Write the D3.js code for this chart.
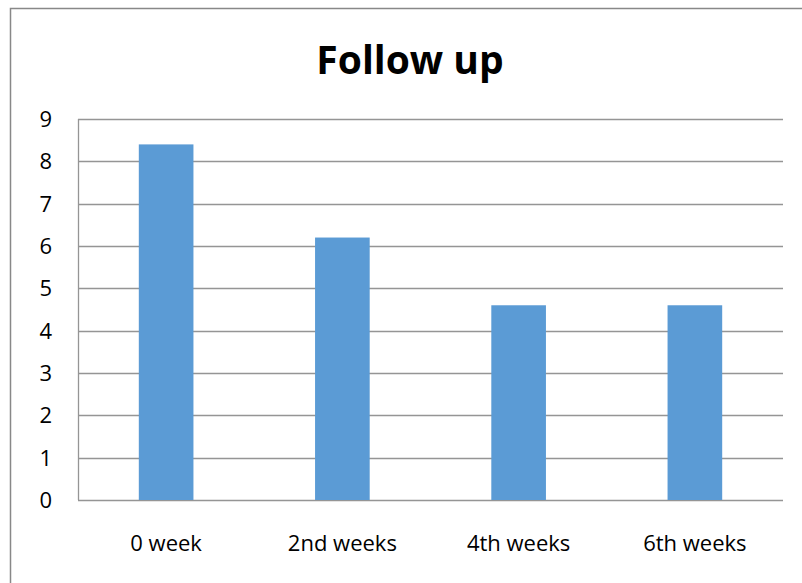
<html>
<head>
<script src="https://d3js.org/d3.v7.min.js"></script>
<style>
body { margin:0; background:#fff; }
text { font-family: "Open Sans", sans-serif; fill:#000; }
</style>
</head>
<body>
<svg width="802" height="583"></svg>
<script>
var categories = ["0 week", "2nd weeks", "4th weeks", "6th weeks"];
var values = [8.4, 6.2, 4.6, 4.6];
var yTicks = [0, 1, 2, 3, 4, 5, 6, 7, 8, 9];
var title = "Follow up";

var svg = d3.select("svg");

// outer chart frame
svg.append("rect")
    .attr("x", 10.5).attr("y", 8.5)
    .attr("width", 820).attr("height", 600)
    .attr("fill", "none").attr("stroke", "#888").attr("stroke-width", 1.5);

var plotLeft = 78, plotTop = 119, plotRight = 783, plotBottom = 500;

var x = d3.scaleBand().domain(categories).range([plotLeft, plotRight]).paddingInner(0.69).paddingOuter(0.345);
var y = d3.scaleLinear().domain([0, 9]).range([plotBottom, plotTop]);

// gridlines
svg.append("g").selectAll("line").data(yTicks).enter().append("line")
    .attr("x1", plotLeft).attr("x2", plotRight)
    .attr("y1", function(d) { return Math.round(y(d)) + 0.5; })
    .attr("y2", function(d) { return Math.round(y(d)) + 0.5; })
    .attr("stroke", "#959595").attr("stroke-width", 1.3);

// left axis line
svg.append("line")
    .attr("x1", plotLeft + 0.5).attr("x2", plotLeft + 0.5)
    .attr("y1", plotTop).attr("y2", plotBottom)
    .attr("stroke", "#959595").attr("stroke-width", 1.3);

svg.append("g").selectAll("rect").data(values).enter().append("rect")
    .attr("x", function(d, i) { return x(categories[i]); })
    .attr("y", function(d) { return y(d); })
    .attr("width", x.bandwidth())
    .attr("height", function(d) { return y(0) - y(d); })
    .attr("fill", "#5b9bd5");

// y tick labels
svg.append("g").selectAll("text").data(yTicks).enter().append("text")
    .text(function(d) { return d; })
    .attr("x", 52).attr("y", function(d) { return y(d); })
    .attr("dy", "0.36em")
    .attr("text-anchor", "end")
    .style("font-size", "22px");

// category labels
svg.append("g").selectAll("text").data(categories).enter().append("text")
    .text(function(d) { return d; })
    .attr("x", function(d) { return x(d) + x.bandwidth() / 2; })
    .attr("y", 543).attr("dy", "0.36em")
    .attr("text-anchor", "middle")
    .style("font-size", "22px");

svg.append("text").text(title)
    .attr("x", 410).attr("y", 74)
    .attr("text-anchor", "middle")
    .style("font-size", "39px").style("font-weight", "bold");
</script>
</body>
</html>
